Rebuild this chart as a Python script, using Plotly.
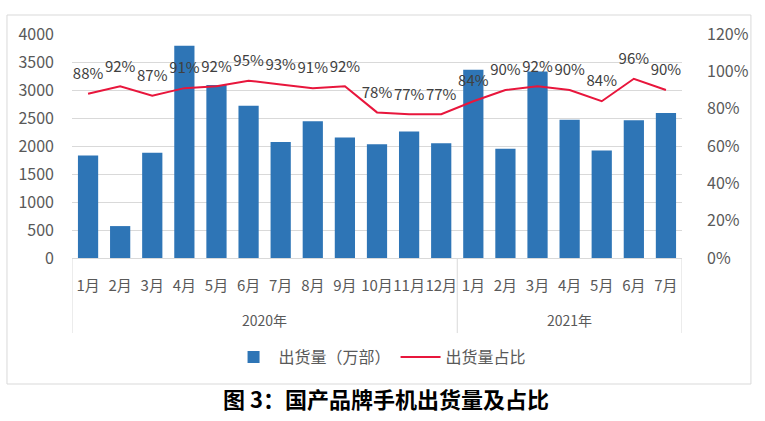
import plotly.graph_objects as go

years = ["2020年"] * 12 + ["2021年"] * 7
months = ["1月", "2月", "3月", "4月", "5月", "6月", "7月", "8月", "9月", "10月", "11月", "12月",
          "1月", "2月", "3月", "4月", "5月", "6月", "7月"]
shipments = [1830, 570, 1880, 3790, 3090, 2720, 2070, 2440, 2150, 2030, 2260, 2050,
             3360, 1950, 3330, 2470, 1920, 2460, 2590]
share = [0.88, 0.92, 0.87, 0.91, 0.92, 0.95, 0.93, 0.91, 0.92, 0.78, 0.77, 0.77,
         0.84, 0.90, 0.92, 0.90, 0.84, 0.96, 0.90]
share_labels = [f"{round(v*100)}%" for v in share]

FONT = "Noto Sans CJK SC"
idx = list(range(len(months)))

# year groups derived from the data
groups = []
for i, y in enumerate(years):
    if not groups or groups[-1][0] != y:
        groups.append([y, i, i])
    else:
        groups[-1][2] = i

fig = go.Figure()
fig.add_trace(go.Bar(
    x=idx, y=shipments, name="出货量（万部）",
    marker=dict(color="#2e75b6", line=dict(width=0)),
))
fig.add_trace(go.Scatter(
    x=idx, y=share, name="出货量占比", yaxis="y2",
    mode="lines+markers+text", text=share_labels, textposition="top center",
    textfont=dict(family=FONT, size=15, color="#404040"),
    marker=dict(size=16, color="rgba(0,0,0,0)", line=dict(width=0)),
    line=dict(color="#e8163c", width=2),
    cliponaxis=False,
))

GRID = "#d9d9d9"
shapes = [dict(type="rect", xref="paper", yref="paper",
               x0=-0.1066, x1=1.113, y0=-0.5625, y1=1.0848,
               line=dict(color=GRID, width=1), fillcolor="rgba(0,0,0,0)", layer="below")]
annotations = []
bounds = [g[1] - 0.5 for g in groups] + [groups[-1][2] + 0.5]
for b in bounds:
    shapes.append(dict(type="line", xref="x", yref="paper", x0=b, x1=b, y0=0, y1=-0.335,
                       line=dict(color=GRID, width=1)))
for name, s, e in groups:
    annotations.append(dict(text=name, xref="x", yref="paper", x=(s + e) / 2, y=-0.277,
                            xanchor="center", yanchor="middle", showarrow=False,
                            font=dict(family=FONT, size=14, color="#595959")))
annotations.append(dict(text="<b>图 3：国产品牌手机出货量及占比</b>", xref="paper", yref="paper",
                        x=0.515, y=-0.625, xanchor="center", yanchor="middle", showarrow=False,
                        font=dict(family=FONT, size=22, color="#000000")))

fig.update_layout(
    width=765, height=421,
    margin=dict(l=72, r=83, t=34, b=163),
    paper_bgcolor="white", plot_bgcolor="white",
    font=dict(family=FONT, color="#595959"),
    bargap=0.37,
    showlegend=True,
    legend=dict(orientation="h", x=0.505, xanchor="center", y=-0.442, yanchor="middle",
                font=dict(family=FONT, size=16, color="#595959"),
                itemwidth=40, traceorder="normal"),
    xaxis=dict(
        range=[-0.5, len(months) - 0.5], automargin=False,
        tickmode="array", tickvals=idx, ticktext=months, tickangle=0,
        showline=True, linecolor=GRID, linewidth=1, showgrid=False, zeroline=False,
        ticks="", ticklabelstandoff=14,
        tickfont=dict(family=FONT, size=15, color="#595959"),
    ),
    yaxis=dict(
        range=[0, 4000], dtick=500, tick0=0, automargin=False,
        showgrid=True, gridcolor=GRID, gridwidth=1,
        zeroline=False, showline=False, ticks="",
        tickfont=dict(family=FONT, size=16, color="#595959"),
        ticklabelstandoff=17,
    ),
    yaxis2=dict(
        range=[0, 1.2], dtick=0.2, tick0=0, tickformat=".0%", automargin=False,
        overlaying="y", side="right", showgrid=False, zeroline=False,
        showline=False, ticks="",
        tickfont=dict(family=FONT, size=16, color="#595959"),
        ticklabelstandoff=24,
    ),
    shapes=shapes,
    annotations=annotations,
)

fig.write_html("out.html", config={"displayModeBar": False},
               post_script="document.body.style.margin='0';document.body.style.overflow='hidden';")
